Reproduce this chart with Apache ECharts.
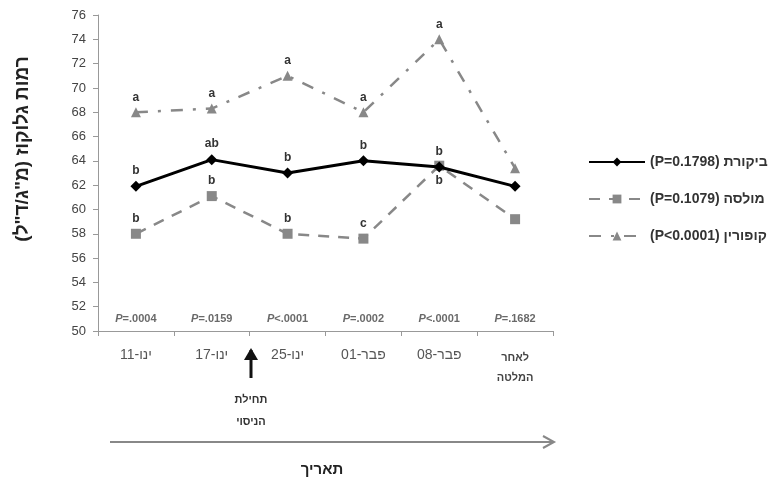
<!DOCTYPE html>
<html><head><meta charset="utf-8">
<script src="https://cdn.jsdelivr.net/npm/echarts@6/dist/echarts.min.js"></script>
<style>html,body{margin:0;padding:0;background:#fff}#c{width:783px;height:484px}</style>
</head><body><div id="c"></div>
<script>
var categories = ["ינו-11", "ינו-17", "ינו-25", "פבר-01", "פבר-08", "לאחר\nהמלטה"];
var controlValues = [61.9, 64.1, 63.0, 64.0, 63.5, 61.9];
var molassesValues = [58.0, 61.1, 58.0, 57.6, 63.6, 59.2];
var coporinValues = [68.0, 68.3, 71.0, 68.0, 74.0, 63.4];
var controlLetters = ["b", "ab", "b", "b", "b", ""];
var molassesLetters = ["b", "b", "b", "c", "b", ""];
var coporinLetters = ["a", "a", "a", "a", "a", ""];
var pLabels = ["=.0004", "=.0159", "<.0001", "=.0002", "<.0001", "=.1682"];
var pRow = [51, 51, 51, 51, 51, 51];
var seriesNames = ["(P=0.1798) ביקורת", "(P=0.1079) מולסה", "(P<0.0001) קופורין"];
var yTicks = {min: 50, max: 76, interval: 2};

function pts(vals, letters, belowIdx) {
  return vals.map(function (v, i) {
    return {value: v, label: {show: letters[i] !== "", formatter: letters[i], position: i === belowIdx ? 'bottom' : 'top', distance: 4}};
  });
}
var lblStyle = {color: '#333', fontSize: 12, fontWeight: 'bold', fontFamily: 'Liberation Sans'};
var chart = echarts.init(document.getElementById('c'));
chart.setOption({
  animation: false,
  grid: {left: 98, right: 230, top: 15, bottom: 153},
  legend: {
    data: seriesNames, orient: 'vertical', left: 583, top: 150, itemGap: 23,
    itemWidth: 56, itemHeight: 11,
    textStyle: {color: '#333', fontSize: 14, fontWeight: 'bold', fontFamily: 'Liberation Sans'}
  },
  xAxis: {
    type: 'category', data: categories, boundaryGap: true,
    axisLine: {lineStyle: {color: '#999'}},
    axisTick: {show: true, length: 5, lineStyle: {color: '#999'}},
    axisLabel: {interval: 0, color: '#555', fontSize: 14, margin: 17, fontFamily: 'Liberation Sans',
      formatter: function (v, i) { return i === 5 ? '{s|' + v.replace('\n', '}\n{s|') + '}' : v; },
      rich: {s: {fontSize: 11, fontWeight: 'bold', color: '#444', lineHeight: 20}}}
  },
  yAxis: {
    type: 'value', min: yTicks.min, max: yTicks.max, interval: yTicks.interval,
    name: 'רמות גלוקוז (מ"ג/ד"ל)', nameLocation: 'middle', nameRotate: 90, nameGap: 66,
    nameTextStyle: {color: '#222', fontSize: 19, fontWeight: 'bold', fontFamily: 'Liberation Sans', padding: [0, 0, 0, 48]},
    splitLine: {show: false},
    axisLine: {show: true, lineStyle: {color: '#999'}},
    axisTick: {show: true, length: 5, inside: false, lineStyle: {color: '#999'}},
    axisLabel: {color: '#444', fontSize: 13, margin: 12, fontFamily: 'Liberation Sans'}
  },
  series: [
    {name: seriesNames[0], type: 'line', data: pts(controlValues, controlLetters, -1),
     symbol: 'diamond', symbolSize: 11, z: 5,
     lineStyle: {color: '#000', width: 3}, itemStyle: {color: '#000'}, label: lblStyle},
    {name: seriesNames[1], type: 'line', data: pts(molassesValues, molassesLetters, 4),
     symbol: 'rect', symbolSize: 10, z: 4,
     lineStyle: {color: '#888', width: 2.5, type: [11, 9]}, itemStyle: {color: '#888'}, label: lblStyle},
    {name: seriesNames[2], type: 'line', data: pts(coporinValues, coporinLetters, -1),
     symbol: 'triangle', symbolSize: 10, z: 3,
     lineStyle: {color: '#888', width: 2.5, type: [12, 10, 3, 10]}, itemStyle: {color: '#888'}, label: lblStyle},
    {name: 'p', type: 'scatter', data: pRow, symbolSize: 0, silent: true,
     label: {show: true, position: 'inside', formatter: function (p) { return '{i|P}' + pLabels[p.dataIndex]; },
       fontSize: 11, fontWeight: 'bold', color: '#444', fontFamily: 'Liberation Sans',
       rich: {i: {fontStyle: 'italic', fontSize: 11, fontWeight: 'bold', color: '#444', fontFamily: 'Liberation Sans'}}}}
  ],
  graphic: [
    {type: 'line', shape: {x1: 251, y1: 378, x2: 251, y2: 350}, style: {stroke: '#111', lineWidth: 3}},
    {type: 'polygon', shape: {points: [[244, 360], [251, 348], [258, 360]]}, style: {fill: '#111'}},
    {type: 'text', x: 251, y: 389, style: {text: 'תחילת\nהניסוי', textAlign: 'center', fill: '#333', font: 'bold 11px Liberation Sans', lineHeight: 22}},
    {type: 'line', shape: {x1: 110, y1: 442, x2: 552, y2: 442}, style: {stroke: '#888', lineWidth: 2}},
    {type: 'polyline', shape: {points: [[543, 436], [554, 442], [543, 448]]}, style: {stroke: '#888', lineWidth: 2, fill: null}},
    {type: 'text', x: 322, y: 462, style: {text: 'תאריך', textAlign: 'center', fill: '#222', font: 'bold 15px Liberation Sans'}}
  ]
});
</script></body></html>
